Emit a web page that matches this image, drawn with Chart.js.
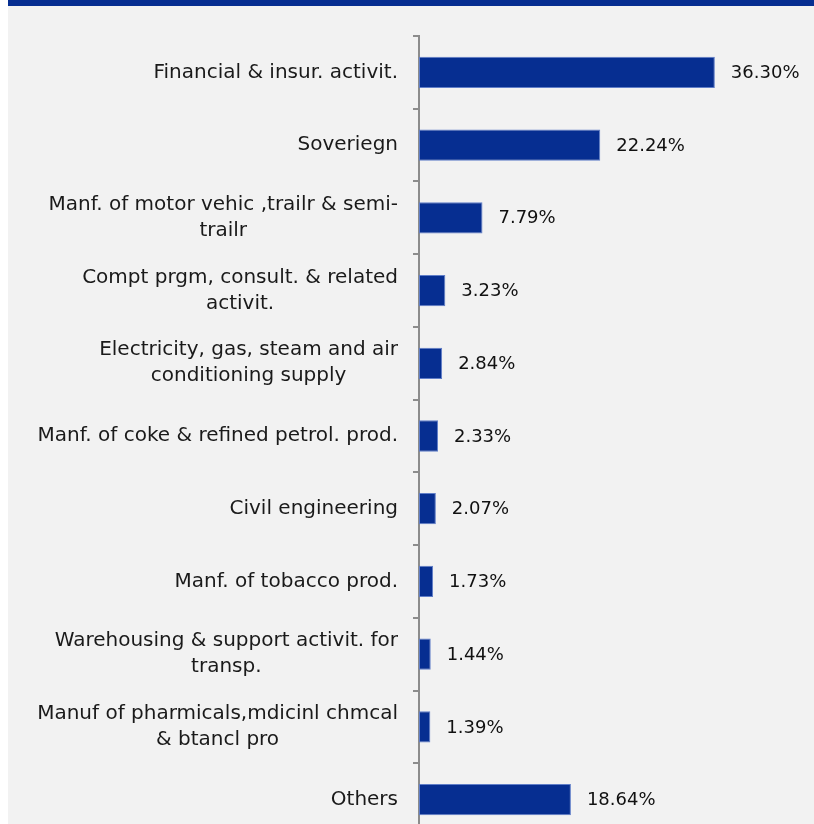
<!DOCTYPE html>
<html>
<head>
<meta charset="utf-8">
<script src="https://cdn.jsdelivr.net/npm/chart.js@4.4.1/dist/chart.umd.min.js"></script>
<style>
  html, body { margin: 0; padding: 0; background: #ffffff; overflow: hidden; }
  #panel { position: absolute; left: 8px; top: 0; width: 806px; height: 824px; background: #f2f2f2; overflow: hidden; }
  #banner { position: absolute; left: 0; top: 0; width: 806px; height: 6px; background: #062e91; z-index: 2; }
  #sectors { position: absolute; left: 0; top: 0; }
</style>
</head>
<body>
<div id="panel">
  <div id="banner"></div>
  <canvas id="sectors" width="806" height="850"></canvas>
</div>
<script>
var categories = [
  'Financial & insur. activit.',
  'Soveriegn',
  ['Manf. of motor vehic ,trailr & semi-', 'trailr'],
  ['Compt prgm, consult. & related', 'activit.'],
  ['Electricity, gas, steam and air', 'conditioning supply'],
  'Manf. of coke & refined petrol. prod.',
  'Civil engineering',
  'Manf. of tobacco prod.',
  ['Warehousing & support activit. for', 'transp.'],
  ['Manuf of pharmicals,mdicinl chmcal', '& btancl pro'],
  'Others'
];
var shares = [36.30, 22.24, 7.79, 3.23, 2.84, 2.33, 2.07, 1.73, 1.44, 1.39, 18.64];

var LABEL_FONT = '20px "DejaVu Sans", sans-serif';
var VALUE_FONT = '18px "DejaVu Sans", sans-serif';

// category names, centred line by line and right-aligned against the axis
var sectorLabels = {
  id: 'sectorLabels',
  afterDraw: function(chart) {
    var ctx = chart.ctx;
    var y = chart.scales.y;
    var right = chart.chartArea.left - 21;
    ctx.save();
    ctx.font = LABEL_FONT;
    ctx.fillStyle = '#1a1a1a';
    ctx.textAlign = 'center';
    ctx.textBaseline = 'middle';
    chart.data.labels.forEach(function(label, i) {
      var lines = Array.isArray(label) ? label : [label];
      var w = 0;
      lines.forEach(function(l) { w = Math.max(w, ctx.measureText(l).width); });
      var cy = y.getPixelForValue(i);
      var lh = 26;
      var top = cy - (lines.length - 1) * lh / 2;
      lines.forEach(function(l, k) {
        ctx.fillText(l, right - w / 2, top + k * lh);
      });
    });
    ctx.restore();
  }
};

// percentage next to the end of each bar
var valueLabels = {
  id: 'valueLabels',
  afterDatasetsDraw: function(chart) {
    var ctx = chart.ctx;
    var meta = chart.getDatasetMeta(0);
    ctx.save();
    ctx.font = VALUE_FONT;
    ctx.fillStyle = '#111111';
    ctx.textAlign = 'left';
    ctx.textBaseline = 'middle';
    meta.data.forEach(function(bar, i) {
      ctx.fillText(shares[i].toFixed(2) + '%', bar.x + 16, bar.y + 1);
    });
    ctx.restore();
  }
};

function init() {
  var element = document.getElementById('sectors').getContext('2d');

  var chart = new Chart(element, {
    type: 'bar',
    data: {
      labels: categories,
      datasets: [{
        data: shares,
        backgroundColor: 'rgb(6, 46, 145)',
        borderColor: 'rgb(96, 126, 200)',
        borderWidth: 1,
        borderSkipped: false,
        categoryPercentage: 1,
        barPercentage: 0.43
      }]
    },
    options: {
      indexAxis: 'y',
      responsive: false,
      animation: false,
      layout: { padding: { left: 405, top: 36, right: 69, bottom: 14 } },
      plugins: {
        legend: { display: false },
        tooltip: { enabled: false }
      },
      scales: {
        x: {
          display: false,
          min: 0,
          max: 40
        },
        y: {
          ticks: { display: false },
          grid: {
            offset: true,
            drawOnChartArea: false,
            drawTicks: true,
            tickLength: 6,
            color: '#8c8c8c',
            lineWidth: 2
          },
          border: { color: '#8c8c8c', width: 2 },
          afterFit: function(scale) { scale.width = 6; }
        }
      }
    },
    plugins: [sectorLabels, valueLabels]
  });
}

document.addEventListener('DOMContentLoaded', init);
</script>
</body>
</html>
